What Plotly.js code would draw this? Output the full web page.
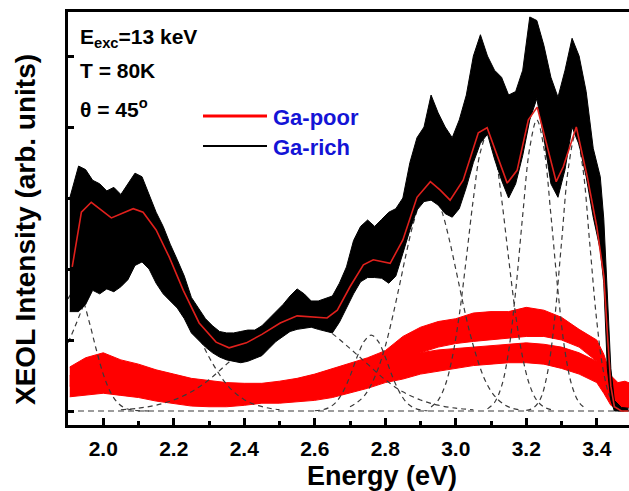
<!DOCTYPE html>
<html>
<head>
<meta charset="utf-8">
<script src="https://cdn.plot.ly/plotly-3.0.1.min.js"></script>
<style>html,body{margin:0;padding:0;background:#fff;}#chart{width:629px;height:491px;}</style>
</head>
<body>
<div id="chart"></div>
<script>
// ---------- data ----------
// x tick labels
const xTickVals = [2.0, 2.2, 2.4, 2.6, 2.8, 3.0, 3.2, 3.4];

// Ga-rich (black) measured spectrum: noisy band, upper & lower envelope
const richE = [1.905,1.93,1.95,1.97,1.99,2.01,2.03,2.05,2.07,2.09,2.11,2.13,2.15,2.17,2.19,2.21,2.23,2.25,2.27,2.29,2.31,2.33,2.35,2.37,2.39,2.41,2.43,2.45,2.47,2.49,2.51,2.53,2.55,2.57,2.59,2.61,2.63,2.65,2.67,2.69,2.71,2.73,2.75,2.77,2.79,2.81,2.83,2.85,2.87,2.89,2.91,2.93,2.95,2.97,2.99,3.01,3.03,3.05,3.07,3.09,3.11,3.13,3.15,3.17,3.19,3.21,3.23,3.25,3.27,3.29,3.31,3.33,3.35,3.37,3.39,3.41,3.42,3.43,3.44,3.45,3.47,3.49];
const richUpper = [3.0,3.45,3.4,3.25,3.2,3.1,3.15,3.05,3.2,3.35,3.3,3.05,2.8,2.6,2.35,2.13,1.9,1.6,1.45,1.3,1.2,1.12,1.1,1.1,1.12,1.14,1.14,1.2,1.3,1.4,1.5,1.62,1.72,1.65,1.55,1.55,1.58,1.62,1.8,2.03,2.4,2.6,2.69,2.6,2.7,2.8,2.85,3.0,3.5,3.85,4.0,4.45,4.2,4.0,3.85,4.1,4.45,5.0,5.3,5.0,4.8,4.7,4.45,4.5,4.8,5.55,5.5,5.15,4.7,4.42,4.8,5.25,5.0,4.5,3.7,3.3,2.7,1.6,0.6,0.15,0.05,0.04];
const richLower = [1.4,1.4,1.5,1.7,1.65,1.72,1.68,1.75,1.85,2.05,2.1,2.0,1.8,1.65,1.55,1.45,1.3,1.1,1.0,0.9,0.82,0.76,0.72,0.7,0.68,0.7,0.74,0.78,0.88,0.98,1.05,1.12,1.15,1.17,1.18,1.15,1.12,1.1,1.25,1.46,1.65,1.82,1.88,1.88,1.87,1.8,1.9,2.22,2.55,2.83,2.95,2.97,2.9,2.78,2.73,2.85,3.15,3.5,3.77,3.9,3.55,3.25,3.0,3.2,3.6,4.1,4.4,3.85,3.2,3.01,3.4,4.0,3.75,3.3,2.73,2.27,1.8,0.6,0.15,0.0,0.0,0.0];

// multi-peak fit (thin red line)
const fitE = [1.912,1.938,1.966,2.023,2.085,2.113,2.15,2.187,2.227,2.272,2.32,2.357,2.406,2.45,2.502,2.55,2.635,2.664,2.70,2.738,2.766,2.814,2.85,2.89,2.928,2.956,2.984,3.021,3.064,3.089,3.146,3.174,3.206,3.231,3.285,3.305,3.342,3.373,3.40,3.42,3.43,3.44,3.45,3.47,3.49];
const fitI = [2.03,2.80,2.94,2.72,2.85,2.80,2.55,2.17,1.70,1.24,0.97,0.89,0.96,1.08,1.24,1.34,1.31,1.42,1.75,2.06,2.13,2.08,2.41,3.01,3.23,3.11,2.97,3.25,3.92,3.99,3.21,3.39,4.10,4.28,3.23,3.44,4.00,3.30,2.60,1.90,1.10,0.35,0.06,0.0,0.0];

// Ga-poor (red) measured spectra: two overlapping noisy bands
const poorE    = [1.905,1.95,2.00,2.05,2.10,2.15,2.20,2.25,2.30,2.35,2.40,2.45,2.50,2.55,2.60,2.65,2.70,2.75,2.80,2.85,2.90,2.95,3.00,3.05,3.10,3.15,3.20,3.25,3.30,3.35,3.40,3.42,3.44,3.46,3.48,3.50];
const poorATop = [0.62,0.75,0.82,0.72,0.66,0.58,0.52,0.46,0.43,0.40,0.39,0.39,0.42,0.46,0.52,0.60,0.68,0.75,0.85,1.05,1.18,1.26,1.30,1.38,1.40,1.40,1.46,1.42,1.32,1.15,1.00,0.80,0.50,0.40,0.42,0.38];
const poorABot = [0.35,0.35,0.35,0.32,0.28,0.22,0.18,0.15,0.13,0.13,0.15,0.18,0.20,0.22,0.26,0.32,0.40,0.48,0.58,0.70,0.82,0.90,0.95,0.98,1.00,1.02,1.05,1.05,1.00,0.90,0.70,0.45,0.20,0.10,0.12,0.10];
const poorBTop = [0.50,0.60,0.65,0.60,0.55,0.48,0.42,0.38,0.35,0.33,0.32,0.32,0.35,0.38,0.43,0.50,0.56,0.62,0.70,0.78,0.82,0.86,0.88,0.90,0.92,0.94,0.96,0.94,0.90,0.82,0.70,0.55,0.35,0.25,0.28,0.25];
const poorBBot = [0.20,0.22,0.25,0.22,0.19,0.14,0.10,0.07,0.06,0.06,0.08,0.11,0.11,0.13,0.15,0.19,0.25,0.32,0.40,0.45,0.52,0.56,0.60,0.64,0.66,0.68,0.68,0.66,0.60,0.52,0.40,0.25,0.08,0.03,0.05,0.05];

// fitted peak components (dashed)
const c1E = [1.90,1.92,1.94,1.96,1.98,2.00,2.02,2.04,2.06,2.08,2.10,2.14];
const c1I = [1.58,1.70,1.58,1.26,0.87,0.52,0.27,0.12,0.045,0.015,0.004,0];
const c2E = [1.90,1.92,1.94,1.96,1.98,2.00,2.02,2.04,2.06,2.08,2.10,2.12,2.14,2.16,2.18,2.20,2.22,2.24,2.26,2.28,2.30,2.32,2.34,2.36,2.38,2.40,2.42,2.44,2.46,2.48,2.50];
const c2I = [0.96,1.19,1.44,1.70,1.96,2.20,2.42,2.60,2.73,2.79,2.79,2.73,2.60,2.42,2.20,1.96,1.70,1.44,1.19,0.96,0.76,0.59,0.44,0.32,0.23,0.16,0.11,0.075,0.05,0.03,0.02];
const c3E = [2.05,2.10,2.15,2.20,2.25,2.30,2.35,2.40,2.45,2.50,2.55,2.60,2.65,2.70,2.75,2.80,2.85,2.90,2.95,3.00,3.05];
const c3I = [0.018,0.04,0.082,0.156,0.27,0.44,0.66,0.88,1.09,1.25,1.30,1.25,1.09,0.88,0.66,0.44,0.27,0.156,0.082,0.04,0.018];
const c4E = [2.60,2.62,2.64,2.66,2.68,2.70,2.72,2.74,2.76,2.78,2.80,2.82,2.84,2.86,2.88,2.90,2.92];
const c4I = [0.004,0.015,0.047,0.122,0.27,0.49,0.76,0.98,1.07,0.98,0.76,0.49,0.27,0.122,0.047,0.015,0.004];
const c5E = [2.70,2.72,2.74,2.76,2.78,2.80,2.82,2.84,2.86,2.88,2.90,2.92,2.94,2.96,2.98,3.00,3.02,3.04,3.06,3.08,3.10,3.12,3.14,3.16,3.18];
const c5I = [0.06,0.12,0.21,0.37,0.60,0.91,1.31,1.76,2.23,2.65,2.95,3.10,3.05,2.82,2.45,2.00,1.53,1.10,0.75,0.47,0.28,0.16,0.084,0.04,0.018];
const c6E = [2.93,2.95,2.97,2.99,3.01,3.03,3.05,3.07,3.09,3.11,3.13,3.15,3.17,3.19,3.21,3.23,3.25,3.27];
const c6I = [0.057,0.15,0.36,0.75,1.35,2.15,2.99,3.65,3.90,3.65,2.99,2.15,1.35,0.75,0.36,0.15,0.057,0.02];
const c7E = [3.09,3.11,3.13,3.15,3.17,3.19,3.21,3.23,3.25,3.27,3.29,3.31,3.33,3.35,3.37];
const c7I = [0.03,0.12,0.35,0.84,1.69,2.76,3.71,4.10,3.71,2.76,1.69,0.84,0.35,0.12,0.03];
const c8E = [3.20,3.22,3.24,3.26,3.28,3.30,3.32,3.34,3.36,3.38,3.40,3.42,3.44,3.46,3.48];
const c8I = [0.009,0.043,0.17,0.53,1.27,2.37,3.44,3.90,3.44,2.37,1.27,0.53,0.17,0.043,0.009];

// zero baseline of the fit
const baseE = [1.9, 3.5];
const baseI = [0, 0];

// ---------- build traces ----------
const FONT = 'Liberation Sans, Arial, Helvetica, sans-serif';
const traces = [];
function band(x, lo, hi, color) {
  traces.push({x: x, y: lo, type: 'scatter', mode: 'lines', line: {color: color, width: 1}, hoverinfo: 'skip', showlegend: false});
  traces.push({x: x, y: hi, type: 'scatter', mode: 'lines', fill: 'tonexty', fillcolor: color, line: {color: color, width: 1}, hoverinfo: 'skip', showlegend: false});
}
band(poorE, poorBBot, poorBTop, '#ff0000');
band(poorE, poorABot, poorATop, '#ff0000');

const comps = [[c1E,c1I],[c2E,c2I],[c3E,c3I],[c4E,c4I],[c5E,c5I],[c6E,c6I],[c7E,c7I],[c8E,c8I]];
comps.forEach(function(c){
  traces.push({x: c[0], y: c[1], type: 'scatter', mode: 'lines', line: {color: '#3a3a3a', width: 1.2, dash: '5px,4px', shape: 'spline'}, hoverinfo: 'skip', showlegend: false});
});
traces.push({x: baseE, y: baseI, type: 'scatter', mode: 'lines', line: {color: '#3a3a3a', width: 1.2, dash: '6px,4px'}, hoverinfo: 'skip', showlegend: false});

band(richE, richLower, richUpper, '#000000');

traces.push({x: fitE, y: fitI, type: 'scatter', mode: 'lines', line: {color: '#e0201c', width: 1.6}, hoverinfo: 'skip', showlegend: false});

// ---------- layout ----------
const L = 68, T = 12, W = 561, H = 413;
function px(xp){ return (xp - L) / W; }
function py(yp){ return (T + H - yp) / H; }

const layout = {
  width: 629, height: 491,
  margin: {l: L, r: 0, t: T, b: 491 - T - H, pad: 0},
  paper_bgcolor: '#ffffff', plot_bgcolor: '#ffffff',
  showlegend: false,
  font: {family: FONT, color: '#000'},
  xaxis: {
    range: [1.9, 3.4915], tickmode: 'array', tickvals: xTickVals, ticktext: xTickVals.map(function(v){return v.toFixed(1);}),
    ticks: 'inside', ticklen: 7, tickwidth: 3, tickcolor: '#000', ticklabelstandoff: 3,
    minor: {ticks: 'inside', tickmode: 'linear', tick0: 1.9, dtick: 0.1, ticklen: 4, tickwidth: 3, tickcolor: '#000'},
    showline: true, linewidth: 3, linecolor: '#000', mirror: true,
    showgrid: false, zeroline: false,
    tickfont: {family: FONT, size: 21, weight: 'bold', color: '#000'}
  },
  yaxis: {
    range: [-0.197, 5.62], tickmode: 'linear', tick0: 0, dtick: 1,
    ticks: 'inside', ticklen: 6, tickwidth: 3, tickcolor: '#000',
    showticklabels: false, showline: true, linewidth: 3, linecolor: '#000',
    showgrid: false, zeroline: false
  },
  shapes: [
    {type: 'line', xref: 'paper', yref: 'paper', x0: px(203), x1: px(267), y0: py(116), y1: py(116), line: {color: '#ff0000', width: 3}},
    {type: 'line', xref: 'paper', yref: 'paper', x0: px(203), x1: px(267), y0: py(146), y1: py(146), line: {color: '#000000', width: 2}}
  ],
  annotations: [
    {text: '<b>Energy (eV)</b>', xref: 'paper', yref: 'paper', x: px(382), y: py(476), xanchor: 'center', yanchor: 'middle', showarrow: false, font: {family: FONT, size: 27, color: '#000'}},
    {text: '<b>XEOL Intensity (arb. units)</b>', xref: 'paper', yref: 'paper', x: px(26), y: py(230), xanchor: 'center', yanchor: 'middle', textangle: -90, showarrow: false, font: {family: FONT, size: 28, color: '#000'}},
    {text: '<b>E<sub>exc</sub>=13 keV</b>', xref: 'paper', yref: 'paper', x: px(78), y: py(38), xanchor: 'left', yanchor: 'middle', showarrow: false, font: {family: FONT, size: 21, color: '#000'}},
    {text: '<b>T = 80K</b>', xref: 'paper', yref: 'paper', x: px(78), y: py(70), xanchor: 'left', yanchor: 'middle', showarrow: false, font: {family: FONT, size: 21, color: '#000'}},
    {text: '<b>θ = 45<sup>o</sup></b>', xref: 'paper', yref: 'paper', x: px(78), y: py(108), xanchor: 'left', yanchor: 'middle', showarrow: false, font: {family: FONT, size: 21, color: '#000'}},
    {text: '<b>Ga-poor</b>', xref: 'paper', yref: 'paper', x: px(271), y: py(117), xanchor: 'left', yanchor: 'middle', showarrow: false, font: {family: FONT, size: 22, color: '#1414d6'}},
    {text: '<b>Ga-rich</b>', xref: 'paper', yref: 'paper', x: px(271), y: py(147), xanchor: 'left', yanchor: 'middle', showarrow: false, font: {family: FONT, size: 22, color: '#1414d6'}}
  ]
};

Plotly.newPlot('chart', traces, layout, {displayModeBar: false, staticPlot: true});
</script>
</body>
</html>
